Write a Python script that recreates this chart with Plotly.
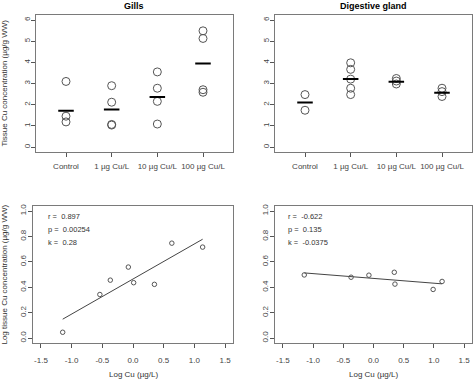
import plotly.graph_objects as go

# ---------------- data ----------------
categories = ["Control", "1 µg Cu/L", "10 µg Cu/L", "100 µg Cu/L"]

gills_values = [
    [3.10, 1.46, 1.19],
    [2.90, 2.12, 1.07, 1.04],
    [3.55, 2.78, 2.16, 1.09],
    [5.49, 5.13, 2.71, 2.59],
]
gills_means = [1.72, 1.78, 2.37, 3.95]

dg_values = [
    [2.48, 1.74],
    [3.98, 3.67, 3.21, 2.78, 2.48],
    [3.24, 3.12, 2.98],
    [2.78, 2.62, 2.39],
]
dg_means = [2.11, 3.21, 3.09, 2.57]

gills_logcu = [-1.146, -0.54, -0.37, -0.076, 0.011, 0.349, 0.633, 1.135]
gills_logtissue = [0.046, 0.343, 0.456, 0.559, 0.436, 0.423, 0.747, 0.716]
gills_fit_x = [-1.146, 1.135]
gills_fit_y = [0.149, 0.778]
gills_stats = ["r =  0.897", "p =  0.00254", "k =  0.28"]

dg_logcu = [-1.146, -0.371, -0.076, 0.344, 0.355, 0.987, 1.135]
dg_logtissue = [0.497, 0.479, 0.495, 0.518, 0.425, 0.383, 0.446]
dg_fit_x = [-1.146, 1.135]
dg_fit_y = [0.513, 0.427]
dg_stats = ["r =  -0.622", "p =  0.135", "k =  -0.0375"]

top_ticks = [0, 1, 2, 3, 4, 5, 6]
bottom_yticks = [0.0, 0.2, 0.4, 0.6, 0.8, 1.0]
bottom_xticks = [-1.5, -1.0, -0.5, 0.0, 0.5, 1.0, 1.5]

# ---------------- figure ----------------
W, H = 474, 381
FONT = "Liberation Sans, Arial, sans-serif"
GRAY = "#555555"
BOX = "#7a7a7a"

fig = go.Figure()

def px_x(a, b):
    return [a / W, b / W]

def px_y(top, bottom):
    return [1 - bottom / H, 1 - top / H]

panels = {
    "tl": dict(x=px_x(36, 233), y=px_y(13, 151)),
    "tr": dict(x=px_x(275, 472), y=px_y(13, 151)),
    "bl": dict(x=px_x(33, 233), y=px_y(205, 343)),
    "br": dict(x=px_x(275, 472), y=px_y(205, 343)),
}
axis_ids = {"tl": ("x", "y"), "tr": ("x2", "y2"), "bl": ("x3", "y3"), "br": ("x4", "y4")}

for key, vals, means in (("tl", gills_values, gills_means), ("tr", dg_values, dg_means)):
    xa, ya = axis_ids[key]
    for i, grp in enumerate(vals):
        fig.add_trace(go.Scatter(
            x=[i + 1] * len(grp), y=grp, mode="markers", xaxis=xa, yaxis=ya,
            marker=dict(symbol="circle-open", size=8, color=GRAY, line=dict(width=1, color=GRAY)),
            showlegend=False, hoverinfo="skip"))
    for i, m in enumerate(means):
        fig.add_trace(go.Scatter(
            x=[i + 1 - 0.17, i + 1 + 0.17], y=[m, m], mode="lines", xaxis=xa, yaxis=ya,
            line=dict(color="black", width=2), showlegend=False, hoverinfo="skip"))

for key, xs, ys, fx, fy in (("bl", gills_logcu, gills_logtissue, gills_fit_x, gills_fit_y),
                            ("br", dg_logcu, dg_logtissue, dg_fit_x, dg_fit_y)):
    xa, ya = axis_ids[key]
    fig.add_trace(go.Scatter(
        x=fx, y=fy, mode="lines", xaxis=xa, yaxis=ya,
        line=dict(color="#444444", width=1), showlegend=False, hoverinfo="skip"))
    fig.add_trace(go.Scatter(
        x=xs, y=ys, mode="markers", xaxis=xa, yaxis=ya,
        marker=dict(symbol="circle-open", size=4.5, color=GRAY, line=dict(width=1, color=GRAY)),
        showlegend=False, hoverinfo="skip"))

common = dict(showline=True, linecolor=BOX, linewidth=1, mirror=True, showgrid=False,
              zeroline=False, ticks="outside", ticklen=4, tickcolor=GRAY, tickwidth=1,
              tickfont=dict(family=FONT, size=8, color="#444444"))

layout = dict(
    width=W, height=H, margin=dict(l=0, r=0, t=0, b=0),
    paper_bgcolor="white", plot_bgcolor="white",
    font=dict(family=FONT, color="#333333"),
)

for n, key in ((1, "tl"), (2, "tr")):
    sfx = "" if n == 1 else str(n)
    layout["xaxis" + sfx] = dict(common, domain=panels[key]["x"], range=[0.343, 4.657],
                                 tickvals=[1, 2, 3, 4], ticktext=categories, tickangle=0,
                                 anchor="y" + sfx, ticklabelstandoff=2)
    layout["yaxis" + sfx] = dict(common, domain=panels[key]["y"], range=[-0.24, 6.24],
                                 tickvals=top_ticks, tickangle=-90,
                                 anchor="x" + sfx, ticklabelstandoff=-2)
for n, key in ((3, "bl"), (4, "br")):
    sfx = str(n)
    layout["xaxis" + sfx] = dict(common, domain=panels[key]["x"], range=[-1.63, 1.63],
                                 tickvals=bottom_xticks, tickangle=0,
                                 ticktext=[f"{v:.1f}" for v in bottom_xticks],
                                 anchor="y" + sfx, ticklabelstandoff=5)
    layout["yaxis" + sfx] = dict(common, domain=panels[key]["y"], range=[-0.04, 1.04],
                                 tickvals=bottom_yticks,
                                 ticktext=[f"{v:.1f}" for v in bottom_yticks],
                                 tickangle=-90, anchor="x" + sfx, ticklabelstandoff=-1)

fig.update_layout(**layout)

ann = []
def txt(x, y, s, size=9, bold=False, angle=0, xanchor="center", color="#333333"):
    s = s.replace("  ", "&nbsp; ")
    ann.append(dict(x=x / W, y=1 - y / H, xref="paper", yref="paper", text=("<b>%s</b>" % s) if bold else s,
                    showarrow=False, textangle=angle, xanchor=xanchor, yanchor="middle",
                    font=dict(family=FONT, size=size, color=color)))

txt(134, 4, "Gills", size=9, bold=True, color="black")
txt(373, 4, "Digestive gland", size=9, bold=True, color="black")
txt(5, 82, "Tissue Cu concentration (µg/g WW)", size=8, angle=-90)
txt(5, 274, "Log tissue Cu concentration (µg/g WW)", size=8, angle=-90)
txt(133, 374, "Log Cu (µg/L)", size=8)
txt(373, 374, "Log Cu (µg/L)", size=8)
for i, s in enumerate(gills_stats):
    txt(46, 216 + 13 * i, s, size=7.5, xanchor="left")
for i, s in enumerate(dg_stats):
    txt(286, 216 + 13 * i, s, size=7.5, xanchor="left")

fig.update_layout(annotations=ann)
fig.write_html("out.html", config={"displayModeBar": False},
               post_script="document.body.style.margin='0px';document.body.style.padding='0px';")
